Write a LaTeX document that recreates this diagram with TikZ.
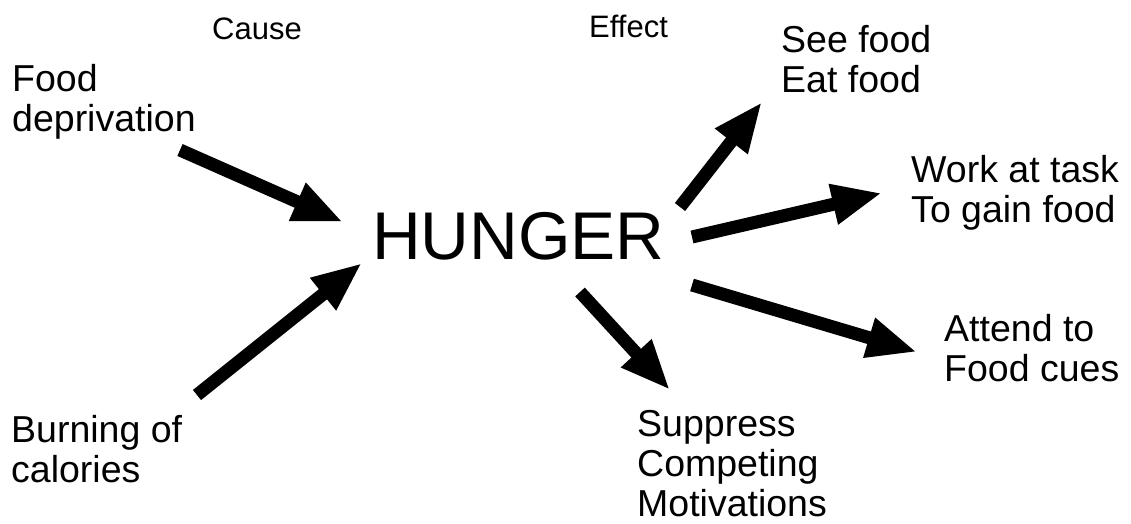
\documentclass[tikz,border=0pt]{standalone}
\usepackage{fontspec}
\setmainfont{Liberation Sans}
\usetikzlibrary{arrows.meta}
\begin{document}
\begin{tikzpicture}[x=1pt,y=-1pt,
  lbl/.style={anchor=north west,inner sep=0pt,align=left,font=\fontsize{37.5}{40}\selectfont},
  head/.style={anchor=north west,inner sep=0pt,font=\fontsize{31}{34}\selectfont},
  bigarrow/.style={line width=13pt,-{Triangle[length=50pt,width=38pt]}}]
\useasboundingbox[fill=white] (0,0) rectangle (1131,524);
\node[head] (cause) at (212,18) {Cause};
\node[head] (effect) at (589,15) {Effect};
\node[lbl] (food) at (12,64) {Food\\deprivation};
\node[lbl] (burn) at (11,415) {Burning of\\calories};
\node[anchor=north west,inner sep=0pt,font=\fontsize{67.5}{70}\selectfont] (hunger) at (372,212) {HUNGER};
\node[lbl] (see) at (781,25) {See food\\Eat food};
\node[lbl] (work) at (911,155) {Work at task\\To gain food};
\node[lbl] (attend) at (944,314) {Attend to\\Food cues};
\node[lbl] (supp) at (637,410) {Suppress\\Competing\\Motivations};
\coordinate (a1s) at (180,150); \coordinate (a1e) at (343,222);
\coordinate (a2s) at (197,395); \coordinate (a2e) at (362,263);
\coordinate (a3s) at (680,207); \coordinate (a3e) at (762,102);
\coordinate (a4s) at (692,237); \coordinate (a4e) at (882,193);
\coordinate (a5s) at (692,285); \coordinate (a5e) at (917,352);
\coordinate (a6s) at (580,292); \coordinate (a6e) at (670,390);
\draw[bigarrow] (a1s) -- (a1e);
\draw[bigarrow] (a2s) -- (a2e);
\draw[bigarrow] (a3s) -- (a3e);
\draw[bigarrow] (a4s) -- (a4e);
\draw[bigarrow] (a5s) -- (a5e);
\draw[bigarrow] (a6s) -- (a6e);
\end{tikzpicture}
\end{document}
